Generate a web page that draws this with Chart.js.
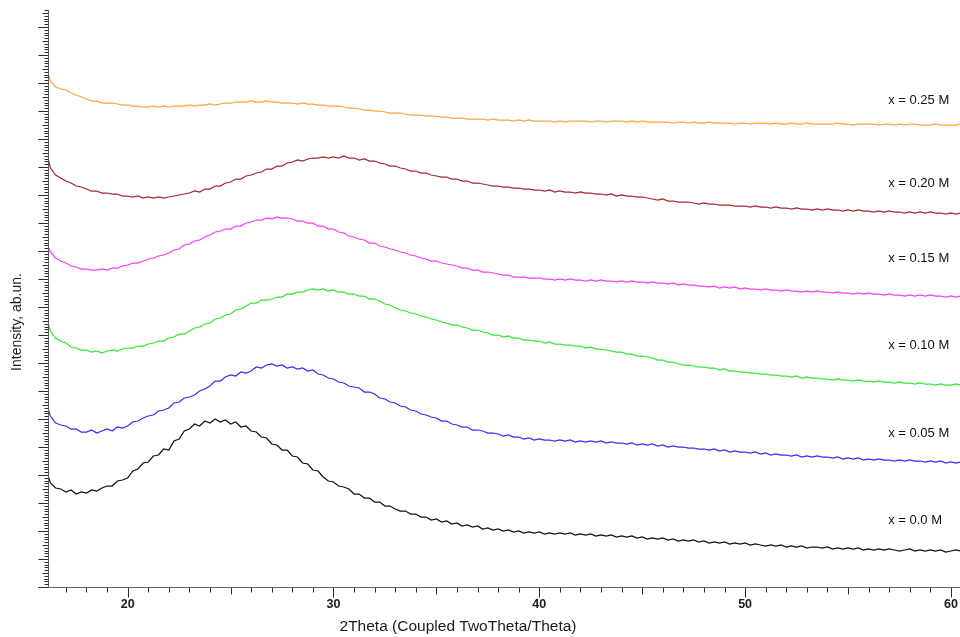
<!DOCTYPE html>
<html>
<head>
<meta charset="utf-8">
<title>XRD patterns</title>
<script src="https://cdn.jsdelivr.net/npm/chart.js@4.4.1/dist/chart.umd.min.js"></script>
<style>
  body { margin: 0; background: #fff; }
  #wrap { width: 960px; height: 637px; }
</style>
</head>
<body>
<div id="wrap"><canvas id="xrd" width="960" height="637"></canvas></div>
<script>
// 2Theta positions, deg (one row per degree)
const twoTheta = [
  16.15,16.25,16.5,16.75,
  17,17.25,17.5,17.75,
  18,18.25,18.5,18.75,
  19,19.25,19.5,19.75,
  20,20.25,20.5,20.75,
  21,21.25,21.5,21.75,
  22,22.25,22.5,22.75,
  23,23.25,23.5,23.75,
  24,24.25,24.5,24.75,
  25,25.25,25.5,25.75,
  26,26.25,26.5,26.75,
  27,27.25,27.5,27.75,
  28,28.25,28.5,28.75,
  29,29.25,29.5,29.75,
  30,30.25,30.5,30.75,
  31,31.25,31.5,31.75,
  32,32.25,32.5,32.75,
  33,33.25,33.5,33.75,
  34,34.25,34.5,34.75,
  35,35.25,35.5,35.75,
  36,36.25,36.5,36.75,
  37,37.25,37.5,37.75,
  38,38.25,38.5,38.75,
  39,39.25,39.5,39.75,
  40,40.25,40.5,40.75,
  41,41.25,41.5,41.75,
  42,42.25,42.5,42.75,
  43,43.25,43.5,43.75,
  44,44.25,44.5,44.75,
  45,45.25,45.5,45.75,
  46,46.25,46.5,46.75,
  47,47.25,47.5,47.75,
  48,48.25,48.5,48.75,
  49,49.25,49.5,49.75,
  50,50.25,50.5,50.75,
  51,51.25,51.5,51.75,
  52,52.25,52.5,52.75,
  53,53.25,53.5,53.75,
  54,54.25,54.5,54.75,
  55,55.25,55.5,55.75,
  56,56.25,56.5,56.75,
  57,57.25,57.5,57.75,
  58,58.25,58.5,58.75,
  59,59.25,59.5,59.75,
  60,60.25,60.45
];

// intensity, ab.un. (curves stacked with offsets, as in the figure)
const i00 = [
  110,104,99,98, 95,97,93,95, 94,97,96,99, 101,101,106,107,
  109,116,118,124, 125,131,132,138, 137,146,148,156, 158,163,161,166,
  164,168,165,167, 163,165,160,161, 156,155,150,149, 143,142,137,137,
  131,130,124,123, 117,116,110,106, 105,101,100,98, 93,93,89,89,
  85,85,81,81, 78,76,76,73, 73,70,70,67, 68,65,66,63,
  64,61,62,60, 61,58,59,57, 58,56,57,55, 56,54,55,54,
  55,53,54,53, 54,53,54,52, 53,52,53,51, 52,51,52,50,
  51,50,51,49, 50,48,49,48, 49,47,48,46, 47,46,47,45,
  46,44,45,44, 45,43,44,43, 44,42,43,42, 41,42,41,42,
  40,41,40,41, 39,40,40,39, 40,38,39,38, 39,38,39,37,
  38,37,38,37, 38,37,36,37, 38,36,37,36, 37,36,37,35,
  36,37,36
];
const i05 = [
  177,171,164,162, 161,158,158,155, 155,157,154,156, 158,156,160,159,
  161,165,166,169, 171,172,176,177, 179,184,185,189, 190,192,196,198,
  201,206,206,210, 212,211,215,214, 216,220,219,222, 223,221,222,219,
  220,218,219,216, 217,213,212,209, 208,205,204,201, 200,199,195,195,
  193,189,188,185, 184,181,180,177, 176,173,172,170, 169,166,166,163,
  162,160,160,157, 157,156,154,154, 153,151,152,150, 150,148,149,147,
  148,147,147,146, 147,146,147,145, 146,145,146,145, 146,144,145,144,
  144,143,144,142, 143,142,143,141, 142,140,141,140, 140,139,139,138,
  138,137,138,136, 137,135,136,135, 135,134,135,133, 134,132,133,132,
  132,131,132,130, 131,130,131,130, 130,129,130,128, 129,128,129,127,
  128,127,128,127, 127,126,127,126, 127,126,126,125, 126,125,126,124,
  125,124,125
];
const i10 = [
  263,256,249,246, 244,240,239,237, 237,235,236,234, 236,237,236,238,
  239,239,241,241, 243,244,246,246, 249,250,253,253, 256,259,260,263,
  264,268,269,272, 273,277,278,281, 284,284,287,287, 288,290,290,293,
  293,295,295,297, 298,297,298,296, 297,295,295,293, 293,291,291,288,
  288,286,283,282, 279,277,276,274, 273,271,270,268, 267,265,264,262,
  262,260,259,257, 257,255,254,252, 252,250,251,249, 249,247,247,246,
  246,244,245,243, 243,242,242,241, 241,239,240,238, 238,237,236,235,
  235,233,233,231, 231,230,229,227, 227,225,225,223, 222,222,221,220,
  220,219,219,217, 218,216,216,215, 215,214,214,213, 213,212,212,211,
  211,210,211,209, 210,209,209,208, 208,207,208,207, 207,206,207,206,
  206,205,206,205, 205,204,205,204, 204,203,204,203, 203,202,203,202,
  202,203,202
];
const i15 = [
  340,335,329,326, 324,321,320,318, 318,317,317,318, 317,319,319,321,
  322,324,324,326, 328,329,331,332, 334,337,338,342, 343,346,347,350,
  352,355,356,358, 358,361,361,364, 365,367,367,369, 368,370,369,369,
  368,366,366,364, 364,361,361,358, 358,355,354,351, 350,348,347,344,
  344,341,340,338, 337,335,334,332, 331,329,328,326, 326,324,323,322,
  321,319,319,317, 317,315,315,314, 313,312,312,310, 310,310,309,309,
  309,308,308,307, 308,307,308,307, 307,306,307,306, 307,306,306,305,
  306,305,306,305, 305,304,305,304, 304,303,304,302, 303,302,302,301,
  301,300,301,299, 300,299,300,298, 299,298,298,297, 298,297,297,296,
  297,296,296,295, 296,295,296,295, 295,294,295,294, 294,293,294,293,
  294,293,293,292, 293,292,292,291, 292,291,292,291, 292,291,291,290,
  291,290,291
];
const i20 = [
  427,419,412,409, 406,404,401,400, 398,396,396,394, 394,393,393,391,
  391,390,391,389, 390,389,390,389, 390,391,392,393, 394,396,395,398,
  398,401,401,404, 405,408,408,411, 412,414,415,418, 418,421,421,424,
  425,427,426,428, 429,429,430,429, 430,429,431,429, 429,427,428,426,
  426,424,423,421, 421,419,418,416, 416,414,414,412, 411,410,410,408,
  408,406,406,404, 404,403,402,401, 401,400,400,399, 399,398,398,397,
  397,396,397,395, 396,395,395,394, 395,394,394,393, 393,392,393,391,
  392,391,391,390, 390,389,388,387, 388,386,386,385, 385,385,384,383,
  384,383,383,382, 382,382,381,381, 381,380,381,380, 380,379,380,379,
  379,378,379,378, 378,377,378,377, 378,377,377,376, 377,376,377,376,
  376,375,376,375, 376,375,375,374, 375,374,375,374, 375,374,374,373,
  374,373,374
];
const i25 = [
  513,506,500,498, 497,494,492,490, 488,486,486,484, 484,484,483,482,
  482,481,481,480, 480,481,480,481, 480,481,481,481, 482,481,482,482,
  483,482,483,484, 484,485,485,485, 486,485,485,486, 485,485,484,484,
  484,483,484,483, 483,482,482,481, 481,481,480,479, 479,478,477,477,
  476,476,475,474, 474,474,473,472, 472,472,471,471, 471,470,470,469,
  469,469,468,468, 468,468,467,468, 467,467,467,466, 467,466,467,466,
  466,466,466,465, 466,465,466,466, 466,466,465,466, 466,465,466,466,
  466,465,466,465, 466,465,465,465, 465,465,464,465, 465,464,465,464,
  464,465,464,464, 464,464,463,464, 464,463,464,464, 464,463,464,463,
  463,464,463,463, 464,463,463,463, 463,463,464,463, 463,462,463,463,
  463,463,462,463, 463,462,463,462, 463,463,462,462, 462,463,462,462,
  462,462,463
];

const seriesData = [i00, i05, i10, i15, i20, i25];
const seriesNames = ['x = 0.0 M', 'x = 0.05 M', 'x = 0.10 M', 'x = 0.15 M', 'x = 0.20 M', 'x = 0.25 M'];
const xTickLabels = [20, 30, 40, 50, 60];

// styles and placement
const colors = ['#111111', '#2f2fff', '#2ee82e', '#f53cf5', '#a3272b', '#ffa23a'];
const nameAnchorX = 56.95;
const nameAnchorY = [67, 154, 242, 329, 404, 487];
const yTickStep = 2.8;
const FONT = '"Liberation Sans", Arial, sans-serif';

const axisPlugin = {
  id: 'xrdAxes',
  afterDraw(chart) {
    const ctx = chart.ctx;
    const xs = chart.scales.x;
    const ys = chart.scales.y;
    const area = chart.chartArea;
    const left = Math.round(area.left) + 0.5;
    const bottom = Math.round(area.bottom) + 0.5;

    ctx.save();
    ctx.lineWidth = 1;

    // axis lines
    ctx.strokeStyle = '#666';
    ctx.beginPath();
    ctx.moveTo(left, area.top);
    ctx.lineTo(left, bottom);
    ctx.lineTo(area.right, bottom);
    ctx.stroke();

    // ticks: long / medium / short
    ctx.strokeStyle = '#2a2a2a';
    ctx.beginPath();
    for (let k = 0; k * yTickStep <= ys.max + 0.001; k++) {
      const y = Math.round(ys.getPixelForValue(k * yTickStep)) + 0.5;
      const len = k % 10 === 0 ? 10 : (k % 5 === 0 ? 6 : 4);
      ctx.moveTo(left, y);
      ctx.lineTo(left - len, y);
    }
    for (let t = Math.ceil(xs.min); t <= xs.max; t++) {
      const x = Math.round(xs.getPixelForValue(t)) + 0.5;
      const len = t % 10 === 0 ? 10 : (t % 5 === 0 ? 7 : 5);
      ctx.moveTo(x, bottom);
      ctx.lineTo(x, bottom + len);
    }
    ctx.stroke();

    // tick labels
    ctx.fillStyle = '#1a1a1a';
    ctx.font = 'bold 12.5px ' + FONT;
    ctx.textAlign = 'center';
    ctx.textBaseline = 'middle';
    xTickLabels.forEach(v => ctx.fillText(String(v), xs.getPixelForValue(v), bottom + 17));

    // axis titles
    ctx.font = '15.5px ' + FONT;
    ctx.fillText('2Theta (Coupled TwoTheta/Theta)', 458, 627);

    ctx.save();
    ctx.font = '14px ' + FONT;
    ctx.translate(17, 322);
    ctx.rotate(-Math.PI / 2);
    ctx.fillText('Intensity, ab.un.', 0, 0);
    ctx.restore();

    // series names
    ctx.font = '13px ' + FONT;
    ctx.fillStyle = '#111';
    ctx.textAlign = 'left';
    seriesNames.forEach((name, i) => {
      ctx.fillText(name, xs.getPixelForValue(nameAnchorX), ys.getPixelForValue(nameAnchorY[i]));
    });

    ctx.restore();
  }
};

const datasets = seriesData.map((arr, i) => ({
  label: seriesNames[i],
  data: twoTheta.map((t, k) => ({ x: t, y: arr[k] })),
  borderColor: colors[i],
  borderWidth: 1.25,
  pointRadius: 0,
  tension: 0,
  fill: false
}));

new Chart(document.getElementById('xrd').getContext('2d'), {
  type: 'line',
  data: { datasets },
  options: {
    responsive: false,
    animation: false,
    devicePixelRatio: 1,
    layout: { padding: { left: 48, top: 10, right: 0, bottom: 50 } },
    scales: {
      x: { type: 'linear', display: false, min: 16.13, max: 60.44 },
      y: { display: false, min: 0, max: 577 }
    },
    plugins: { legend: { display: false }, tooltip: { enabled: false } }
  },
  plugins: [axisPlugin]
});
</script>
</body>
</html>
